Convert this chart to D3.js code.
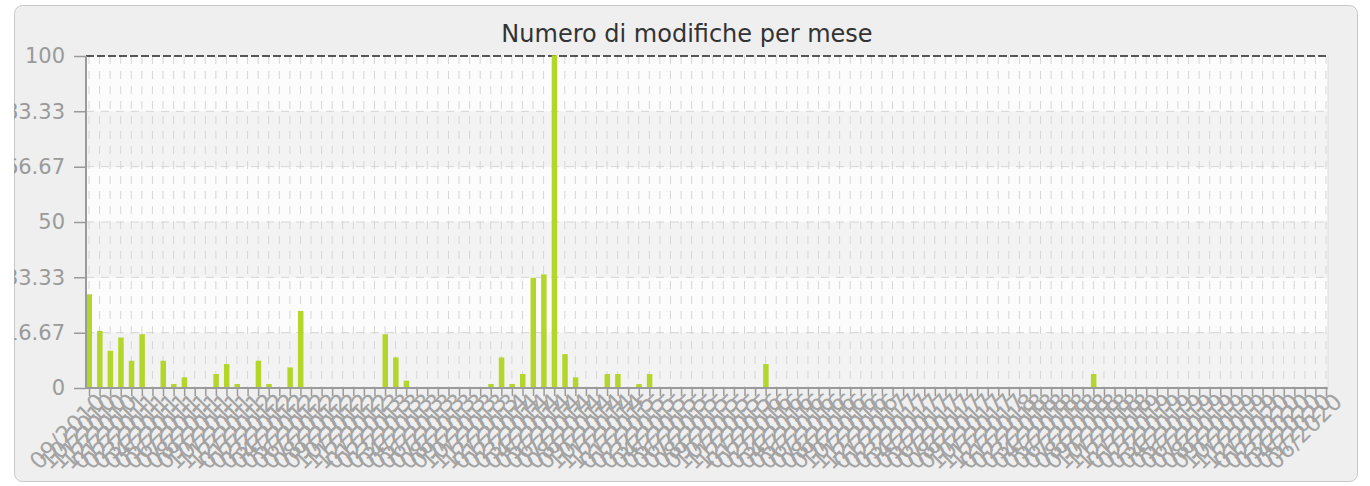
<!DOCTYPE html>
<html>
<meta charset="utf-8">
<style>
  body { margin: 0; background: #fff; }
  text { font-family: "DejaVu Sans", sans-serif; }
  .title { font-size: 24px; fill: #333; }
  .yax text { font-size: 21px; fill: #9a9a9a; }
  .xax text { font-size: 23px; fill: #a3a3a3; }
  .yax line, .xax line { stroke: #9a9a9a; stroke-width: 1.5; }
  .grid { stroke: #d6d6d6; stroke-dasharray: 8,7; }
</style>
<body>
<script src="https://cdnjs.cloudflare.com/ajax/libs/d3/7.8.5/d3.min.js"></script>
<script>
var width = 1370, height = 486;

// months, 09/2010 .. 06/2020
var months = [
  "09/2010","10/2010","11/2010","12/2010",
  "01/2011","02/2011","03/2011","04/2011","05/2011","06/2011","07/2011","08/2011","09/2011","10/2011","11/2011","12/2011",
  "01/2012","02/2012","03/2012","04/2012","05/2012","06/2012","07/2012","08/2012","09/2012","10/2012","11/2012","12/2012",
  "01/2013","02/2013","03/2013","04/2013","05/2013","06/2013","07/2013","08/2013","09/2013","10/2013","11/2013","12/2013",
  "01/2014","02/2014","03/2014","04/2014","05/2014","06/2014","07/2014","08/2014","09/2014","10/2014","11/2014","12/2014",
  "01/2015","02/2015","03/2015","04/2015","05/2015","06/2015","07/2015","08/2015","09/2015","10/2015","11/2015","12/2015",
  "01/2016","02/2016","03/2016","04/2016","05/2016","06/2016","07/2016","08/2016","09/2016","10/2016","11/2016","12/2016",
  "01/2017","02/2017","03/2017","04/2017","05/2017","06/2017","07/2017","08/2017","09/2017","10/2017","11/2017","12/2017",
  "01/2018","02/2018","03/2018","04/2018","05/2018","06/2018","07/2018","08/2018","09/2018","10/2018","11/2018","12/2018",
  "01/2019","02/2019","03/2019","04/2019","05/2019","06/2019","07/2019","08/2019","09/2019","10/2019","11/2019","12/2019",
  "01/2020","02/2020","03/2020","04/2020","05/2020","06/2020"
];

var modifiche = [
  28,17,11,15,8,16,0,8,1,3,
  0,0,4,7,1,0,8,1,0,6,
  23,0,0,0,0,0,0,0,16,9,
  2,0,0,0,0,0,0,0,1,9,
  1,4,33,34,100,10,3,0,0,4,
  4,0,1,4,0,0,0,0,0,0,
  0,0,0,0,7,0,0,0,0,0,
  0,0,0,0,0,0,0,0,0,0,
  0,0,0,0,0,0,0,0,0,0,
  0,0,0,0,0,4,0,0,0,0,
  0,0,0,0,0,0,0,0,0,0,
  0,0,0,0,0,0,0,0
];

var yTicks = [0, 16.67, 33.33, 50, 66.67, 83.33, 100];
var yLabels = ["0", "16.67", "33.33", "50", "66.67", "83.33", "100"];

var plot = {left: 86, right: 1328, top: 56, bottom: 388};

var svg = d3.select("body").append("svg")
    .attr("width", width)
    .attr("height", height);

svg.append("clipPath").attr("id", "frame")
  .append("rect")
    .attr("x", 14).attr("y", 5)
    .attr("width", 1344).attr("height", 477)
    .attr("rx", 8);

svg.append("rect")
    .attr("x", 14.5).attr("y", 5.5)
    .attr("width", 1343).attr("height", 476)
    .attr("rx", 8)
    .style("fill", "#efefef")
    .style("stroke", "#c8c8c8");

var g = svg.append("g").attr("clip-path", "url(#frame)");

var x = d3.scalePoint().domain(months).range([89, 1326]);
var y = d3.scaleLinear().domain([0, 100]).range([plot.bottom, plot.top]);

g.append("text")
    .attr("class", "title")
    .attr("x", 687)
    .attr("y", 42)
    .attr("text-anchor", "middle")
    .text("Numero di modifiche per mese");

// alternating bands
g.selectAll(".band")
    .data(d3.range(yTicks.length - 1))
  .enter().append("rect")
    .attr("x", plot.left)
    .attr("width", plot.right - plot.left)
    .attr("y", function(i) { return y(yTicks[i + 1]); })
    .attr("height", function(i) { return y(yTicks[i]) - y(yTicks[i + 1]); })
    .style("fill", function(i) { return i % 2 == 0 ? "#f3f3f3" : "#fcfcfc"; });

g.selectAll(".vgrid")
    .data(months)
  .enter().append("line")
    .attr("class", "grid")
    .attr("x1", function(d) { return x(d); })
    .attr("x2", function(d) { return x(d); })
    .attr("y1", plot.top)
    .attr("y2", plot.bottom);

g.selectAll(".hgrid")
    .data(yTicks.slice(1, -1))
  .enter().append("line")
    .attr("class", "grid")
    .attr("x1", plot.left)
    .attr("x2", plot.right)
    .attr("y1", function(d) { return y(d); })
    .attr("y2", function(d) { return y(d); });

// top line
g.append("line")
    .attr("x1", plot.left).attr("x2", plot.right)
    .attr("y1", y(100)).attr("y2", y(100))
    .style("stroke", "#222")
    .style("stroke-width", 1.5)
    .style("stroke-dasharray", "8,3");

g.selectAll(".bar")
    .data(modifiche)
  .enter().append("rect")
    .attr("class", "bar")
    .attr("x", function(d, i) { return x(months[i]) - 2.5; })
    .attr("width", 5.5)
    .attr("y", function(d) { return y(d) - (d > 0 ? 0.7 : 0); })
    .attr("height", function(d) { return y(0) - y(d) + (d > 0 ? 0.7 : 0); })
    .style("fill", "#b4d62a");

var yAxis = g.append("g")
    .attr("class", "yax")
    .attr("transform", "translate(" + plot.left + ",0)")
    .call(d3.axisLeft(y).tickValues(yTicks)
      .tickFormat(function(d, i) { return yLabels[i]; })
      .tickSize(12).tickPadding(9));
yAxis.select(".domain").remove();

var xAxis = g.append("g")
    .attr("class", "xax")
    .attr("transform", "translate(0," + plot.bottom + ")")
    .call(d3.axisBottom(x).tickSize(8).tickSizeOuter(0));
xAxis.select(".domain").remove();
xAxis.selectAll("text")
    .attr("text-anchor", "end")
    .attr("transform", "translate(2,0) rotate(-45)")
    .attr("dy", "0.5em")
    .attr("y", 10);

// axis lines
g.append("line")
    .attr("x1", plot.left).attr("x2", plot.left)
    .attr("y1", plot.top).attr("y2", plot.bottom)
    .style("stroke", "#9a9a9a").style("stroke-width", 2);
g.append("line")
    .attr("x1", plot.left).attr("x2", plot.right)
    .attr("y1", plot.bottom).attr("y2", plot.bottom)
    .style("stroke", "#9a9a9a").style("stroke-width", 2);
g.append("line")
    .attr("x1", plot.right).attr("x2", plot.right)
    .attr("y1", plot.top).attr("y2", plot.bottom)
    .style("stroke", "#e0e0e0");
</script>
</body>
</html>
